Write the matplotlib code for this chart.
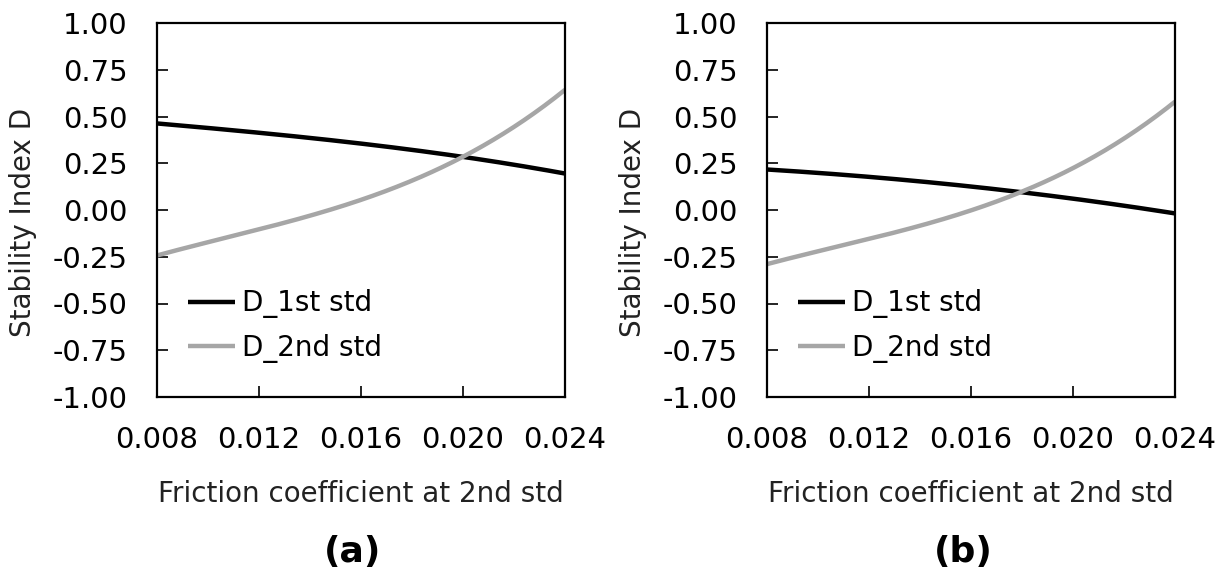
import matplotlib
matplotlib.use("Agg")
import matplotlib.pyplot as plt
import numpy as np

plt.rcParams['font.family'] = ['DejaVu Sans']

friction = [0.008, 0.010, 0.012, 0.014, 0.016, 0.018, 0.020, 0.022, 0.024]

# Panel (a)
d1_a = [0.463, 0.440, 0.410, 0.385, 0.358, 0.323, 0.282, 0.241, 0.196]
d2_a = [-0.245, -0.170, -0.100, -0.035, 0.055, 0.155, 0.284, 0.450, 0.640]

# Panel (b)
d1_b = [0.218, 0.196, 0.177, 0.153, 0.128, 0.095, 0.060, 0.021, -0.017]
d2_b = [-0.290, -0.220, -0.154, -0.085, -0.004, 0.100, 0.226, 0.380, 0.580]

xticks = [0.008, 0.012, 0.016, 0.020, 0.024]
yticks = [-1.00, -0.75, -0.50, -0.25, 0.00, 0.25, 0.50, 0.75, 1.00]
panel_labels = ["(a)", "(b)"]
series_names = ["D_1st std", "D_2nd std"]

W, H = 1226, 572
fig = plt.figure(figsize=(W / 100, H / 100), dpi=100)

lefts = [157, 767]
for left, d1, d2, tag in zip(lefts, [d1_a, d1_b], [d2_a, d2_b], panel_labels):
    ax = fig.add_axes([left / W, (H - 397) / H, 408 / W, 374 / H])
    xs = np.linspace(friction[0], friction[-1], 200)
    c1 = np.polyfit(friction, d1, 3)
    c2 = np.polyfit(friction, d2, 3)
    ax.plot(xs, np.polyval(c1, xs), color="black", lw=3.2,
            solid_capstyle="butt", label=series_names[0])
    ax.plot(xs, np.polyval(c2, xs), color="#a6a6a6", lw=3.2,
            solid_capstyle="butt", label=series_names[1])
    ax.set_xlim(0.008, 0.024)
    ax.set_ylim(-1.0, 1.0)
    ax.set_xticks(xticks)
    ax.set_xticklabels([f"{t:.3f}" for t in xticks])
    ax.set_yticks(yticks)
    ax.set_yticklabels([f"{t:.2f}" for t in yticks])
    ax.tick_params(direction="in", length=8, width=1.2, labelsize=21,
                   colors="black")
    ax.tick_params(axis="x", pad=21)
    ax.tick_params(axis="y", pad=21)
    for s in ax.spines.values():
        s.set_linewidth(1.6)
    ax.set_xlabel("Friction coefficient at 2nd std", fontsize=20,
                  color="#222222")
    ax.xaxis.set_label_coords(0.5, -0.222)
    ax.set_ylabel("Stability Index D", fontsize=20, color="#222222")
    ax.yaxis.set_label_coords(-0.294, 0.468)
    ax.legend(loc="center left", bbox_to_anchor=(0.076, 0.19), frameon=False,
              fontsize=20, handlelength=1.7, handletextpad=0.25,
              labelspacing=0.55, borderpad=0, borderaxespad=0)
    fig.text((left + 196) / W, 1 - 552 / H, tag, ha="center", va="center",
             fontsize=26, fontweight="bold")

fig.savefig("out.png", dpi=100)
